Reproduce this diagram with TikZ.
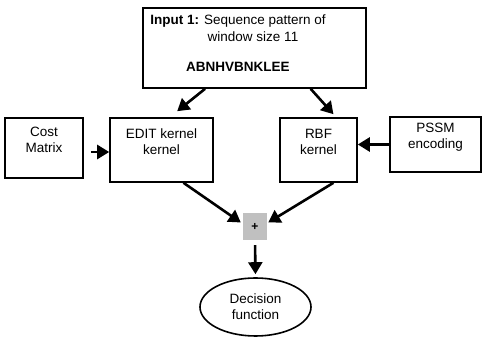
\documentclass[tikz,border=0pt]{standalone}
\usepackage{fontspec}
\setmainfont{Liberation Sans}
\usetikzlibrary{arrows.meta,calc,shapes.geometric}
\definecolor{PlusGray}{HTML}{C0C0C0}

\begin{document}
\begin{tikzpicture}[x=1pt,y=1pt,font=\fontsize{13.5}{16}\selectfont,>={Triangle[length=12pt,width=14pt]}]
\tikzset{
  box/.style={draw,line width=1.6pt,align=center,inner sep=0pt,text depth=17pt},
  txt/.style={inner sep=0pt,anchor=center},
  flow/.style={->,line width=2.6pt},
  plusbox/.style={fill=PlusGray,minimum width=24pt,minimum height=27pt,inner sep=0pt,font=\bfseries\fontsize{12}{14}\selectfont},
  decision/.style={draw,ellipse,line width=1.6pt,minimum width=111pt,minimum height=58pt,align=center,inner sep=0pt}
}
\useasboundingbox (0,0) rectangle (483,337);

% input box
\node[draw,line width=1.6pt,minimum width=223pt,minimum height=80pt] (inp) at (254.5,289) {};
\node[txt] (inp1) at (238,316) {\textbf{Input 1:} Sequence pattern of};
\node[txt] (inp2) at (253,300) {window size 11};
\node[txt] (seq) at (238,270) {\textbf{ABNHVBNKLEE}};

% kernels and their side inputs
\node[box,minimum width=78pt,minimum height=60pt] (cost) at (44,189) {Cost\\Matrix};
\node[box,minimum width=103pt,minimum height=64pt] (edit) at (161.5,187) {EDIT kernel\\kernel};
\node[box,minimum width=77pt,minimum height=64pt] (rbf) at (318.5,187) {RBF\\kernel};
\node[box,minimum width=91pt,minimum height=55pt] (pssm) at (435.5,192.5) {PSSM\\encoding};

% sum and output
\node[plusbox] (plus) at (255,110.5) {+};
\node[decision] (dec) at (255.5,30) {Decision\\function};

\draw[flow] ($(inp.south west)!0.28!(inp.south east)$) -- ([yshift=6]$(edit.north west)!0.65!(edit.north east)$);
\draw[flow] ($(inp.south west)!0.75!(inp.south east)$) -- ([yshift=3]$(rbf.north west)!0.69!(rbf.north east)$);
\draw[flow,shorten <=7pt] ([yshift=-4]cost.east) -- ([yshift=-4]cost.east -| edit.west);
\draw[flow] (pssm.west) -- (pssm.west -| rbf.east);
\draw[flow] ($(edit.south west)!0.71!(edit.south east)$) -- ([xshift=-2,yshift=4]plus.west);
\draw[flow] ($(rbf.south west)!0.69!(rbf.south east)$) -- ([xshift=1,yshift=4]plus.east);
\draw[flow,shorten <=5pt,shorten >=3pt] (plus.south) -- (dec.north);
\end{tikzpicture}
\end{document}
